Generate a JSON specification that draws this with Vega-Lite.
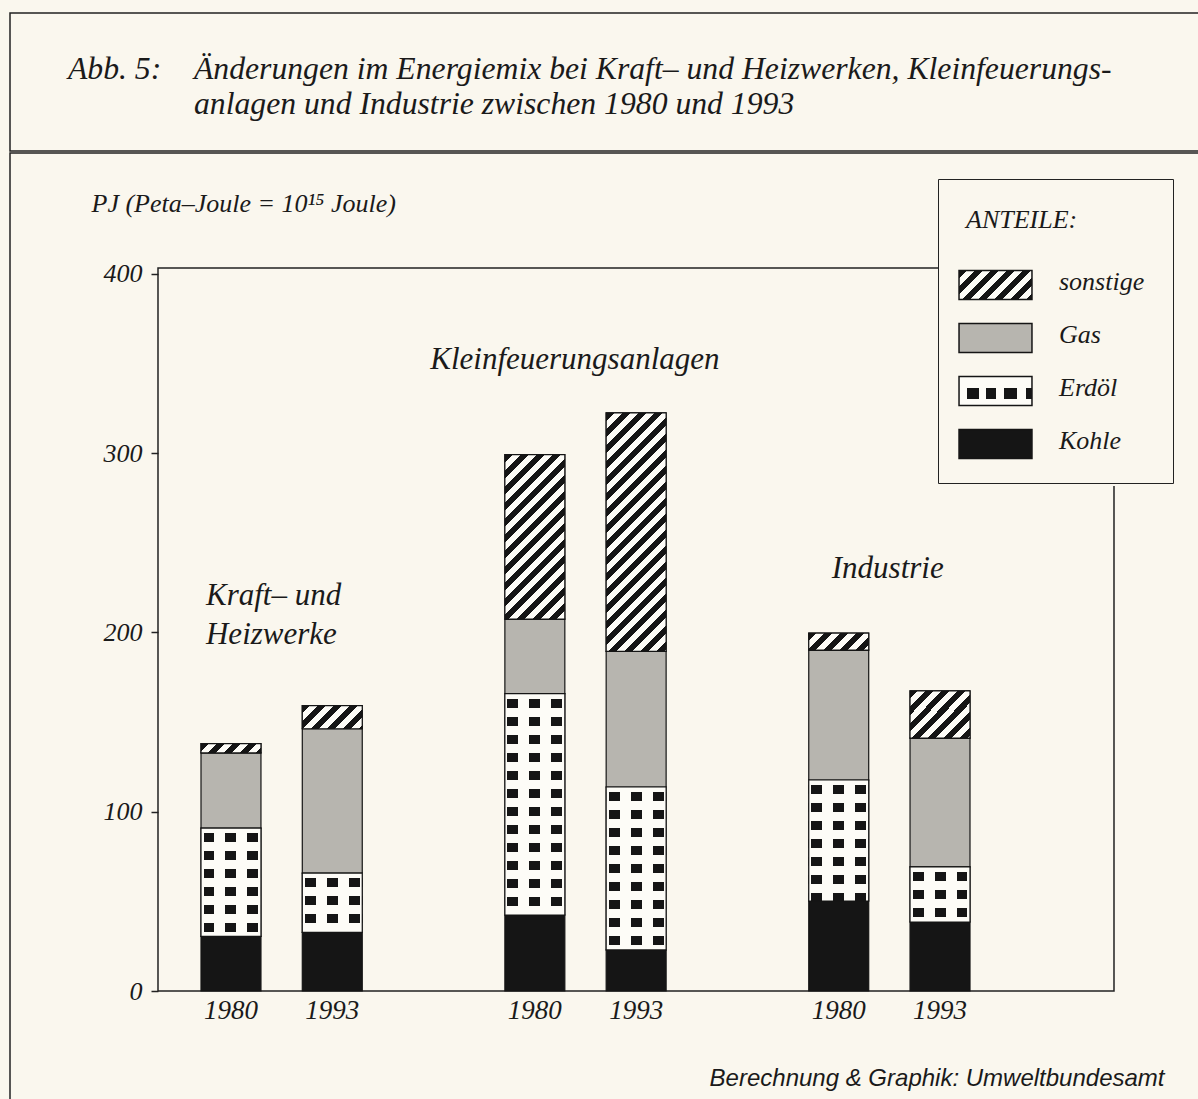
{
"$schema":"https://vega.github.io/schema/vega-lite/v6.json",
"background":"#faf7ee",
"padding":{"left":9,"top":12,"right":0,"bottom":0},
"spacing":0,
"config":{"view":{"stroke":"#222222","strokeWidth":1.5},"font":"Liberation Serif"},
"datasets":{"energie":[
{"Balken":"Kraft 1980","Anteil":"Kohle","Wert":30.5},
{"Balken":"Kraft 1980","Anteil":"Erdöl","Wert":60.4},
{"Balken":"Kraft 1980","Anteil":"Gas","Wert":41.9},
{"Balken":"Kraft 1980","Anteil":"sonstige","Wert":5.2},
{"Balken":"Kraft 1993","Anteil":"Kohle","Wert":32.7},
{"Balken":"Kraft 1993","Anteil":"Erdöl","Wert":33.1},
{"Balken":"Kraft 1993","Anteil":"Gas","Wert":80.5},
{"Balken":"Kraft 1993","Anteil":"sonstige","Wert":12.9},
{"Balken":"Klein 1980","Anteil":"Kohle","Wert":42.4},
{"Balken":"Klein 1980","Anteil":"Erdöl","Wert":123.5},
{"Balken":"Klein 1980","Anteil":"Gas","Wert":41.6},
{"Balken":"Klein 1980","Anteil":"sonstige","Wert":91.7},
{"Balken":"Klein 1993","Anteil":"Kohle","Wert":22.9},
{"Balken":"Klein 1993","Anteil":"Erdöl","Wert":90.9},
{"Balken":"Klein 1993","Anteil":"Gas","Wert":75.7},
{"Balken":"Klein 1993","Anteil":"sonstige","Wert":133.0},
{"Balken":"Industrie 1980","Anteil":"Kohle","Wert":50.2},
{"Balken":"Industrie 1980","Anteil":"Erdöl","Wert":67.5},
{"Balken":"Industrie 1980","Anteil":"Gas","Wert":72.5},
{"Balken":"Industrie 1980","Anteil":"sonstige","Wert":9.5},
{"Balken":"Industrie 1993","Anteil":"Kohle","Wert":38.5},
{"Balken":"Industrie 1993","Anteil":"Erdöl","Wert":30.7},
{"Balken":"Industrie 1993","Anteil":"Gas","Wert":71.9},
{"Balken":"Industrie 1993","Anteil":"sonstige","Wert":26.3}
]},
"vconcat":[
{"width":1200,"height":138,
 "data":{"values":[{"Nr":"Abb. 5:","Titel":"Änderungen im Energiemix bei Kraft– und Heizwerken, Kleinfeuerungs-\nanlagen und Industrie zwischen 1980 und 1993"}]},
 "layer":[
  {"mark":{"type":"text","align":"left","baseline":"alphabetic","font":"Liberation Serif","fontStyle":"italic","fontSize":31.7,"color":"#1a1a1a"},
   "encoding":{
    "x":{"datum":0.0483,"type":"quantitative","scale":{"domain":[0,1],"nice":false,"zero":false},"axis":null},
    "y":{"datum":0.5217,"type":"quantitative","scale":{"domain":[0,1],"nice":false,"zero":false},"axis":null},
    "text":{"field":"Nr"}}},
  {"mark":{"type":"text","align":"left","baseline":"alphabetic","font":"Liberation Serif","fontStyle":"italic","fontSize":31.7,"lineBreak":"\n","lineHeight":35,"color":"#1a1a1a"},
   "encoding":{
    "x":{"datum":0.1533,"type":"quantitative"},
    "y":{"datum":0.5217,"type":"quantitative"},
    "text":{"field":"Titel"}}}
 ]},
{"width":1200,"height":960,
 "resolve":{"scale":{"x":"independent"}},
 "layer":[
  {"layer":[
   {"data":{"values":[{"Rahmen":"Diagramm"}]},
    "mark":{"type":"rect","fill":"#ffffff","fillOpacity":0,"stroke":"#222222","strokeWidth":1.5},
    "encoding":{
     "x":{"datum":0,"type":"quantitative","scale":{"domain":[-0.15481,1.10042],"nice":false,"zero":false},"axis":null},
     "x2":{"datum":1},
     "y":{"datum":0,"type":"quantitative","scale":{"domain":[-68.06,467.5],"nice":false,"zero":false}},
     "y2":{"datum":403.3}}},
   {"data":{"values":[{"Rahmen":"Legende"}]},
    "mark":{"type":"rect","fill":"#faf7ee","strokeWidth":0},
    "encoding":{"x":{"datum":0.8159,"type":"quantitative"},"x2":{"datum":1.0669},"y":{"datum":281.7,"type":"quantitative"},"y2":{"datum":451.9}}},
   {"data":{"values":[{"Anteil":"sonstige"}]},
    "mark":{"type":"rect","stroke":"#151515","strokeWidth":1.5,
     "fill":{"gradient":"linear","x1":0,"y1":0,"x2":1.2068,"y2":0.4794,"stops":[{"offset":0,"color":"#151515"},{"offset":0.0784,"color":"#151515"},{"offset":0.0784,"color":"#fdfcf7"},{"offset":0.1569,"color":"#fdfcf7"},{"offset":0.1569,"color":"#151515"},{"offset":0.2353,"color":"#151515"},{"offset":0.2353,"color":"#fdfcf7"},{"offset":0.3137,"color":"#fdfcf7"},{"offset":0.3137,"color":"#151515"},{"offset":0.3922,"color":"#151515"},{"offset":0.3922,"color":"#fdfcf7"},{"offset":0.4706,"color":"#fdfcf7"},{"offset":0.4706,"color":"#151515"},{"offset":0.549,"color":"#151515"},{"offset":0.549,"color":"#fdfcf7"},{"offset":0.6275,"color":"#fdfcf7"},{"offset":0.6275,"color":"#151515"},{"offset":0.7059,"color":"#151515"},{"offset":0.7059,"color":"#fdfcf7"},{"offset":0.7843,"color":"#fdfcf7"},{"offset":0.7843,"color":"#151515"},{"offset":0.8627,"color":"#151515"},{"offset":0.8627,"color":"#fdfcf7"},{"offset":0.9412,"color":"#fdfcf7"},{"offset":0.9412,"color":"#151515"},{"offset":1,"color":"#151515"}]}},
    "encoding":{"x":{"datum":0.8379,"type":"quantitative"},"x2":{"datum":0.9142},"y":{"datum":385.77,"type":"quantitative"},"y2":{"datum":401.95}}},
   {"data":{"values":[{"Anteil":"Gas"}]},
    "mark":{"type":"rect","stroke":"#151515","strokeWidth":1.5,"fill":"#b7b5af"},
    "encoding":{"x":{"datum":0.8379,"type":"quantitative"},"x2":{"datum":0.9142},"y":{"datum":356.21,"type":"quantitative"},"y2":{"datum":372.38}}},
   {"data":{"values":[{"Anteil":"Erdöl"}]},
    "mark":{"type":"rect","strokeWidth":0,
     "fill":{"gradient":"linear","x1":0,"y1":0,"x2":0,"y2":1,"stops":[{"offset":0,"color":"#fdfcf7"},{"offset":0.38,"color":"#fdfcf7"},{"offset":0.38,"color":"#151515"},{"offset":0.78,"color":"#151515"},{"offset":0.78,"color":"#fdfcf7"},{"offset":1,"color":"#fdfcf7"}]}},
    "encoding":{"x":{"datum":0.8379,"type":"quantitative"},"x2":{"datum":0.9142},"y":{"datum":326.64,"type":"quantitative"},"y2":{"datum":342.82}}},
   {"data":{"values":[{"Anteil":"Erdöl"}]},
    "mark":{"type":"rect","stroke":"#151515","strokeWidth":1.5,
     "fill":{"gradient":"linear","x1":0,"y1":0,"x2":1,"y2":0,"stops":[{"offset":0,"color":"#fdfcf7"},{"offset":0.11,"color":"#fdfcf7"},{"offset":0.11,"color":"rgba(253,252,247,0)"},{"offset":0.28,"color":"rgba(253,252,247,0)"},{"offset":0.28,"color":"#fdfcf7"},{"offset":0.37,"color":"#fdfcf7"},{"offset":0.37,"color":"rgba(253,252,247,0)"},{"offset":0.5,"color":"rgba(253,252,247,0)"},{"offset":0.5,"color":"#fdfcf7"},{"offset":0.62,"color":"#fdfcf7"},{"offset":0.62,"color":"rgba(253,252,247,0)"},{"offset":0.8,"color":"rgba(253,252,247,0)"},{"offset":0.8,"color":"#fdfcf7"},{"offset":0.92,"color":"#fdfcf7"},{"offset":0.92,"color":"rgba(253,252,247,0)"},{"offset":1,"color":"rgba(253,252,247,0)"}]}},
    "encoding":{"x":{"datum":0.8379,"type":"quantitative"},"x2":{"datum":0.9142},"y":{"datum":326.64,"type":"quantitative"},"y2":{"datum":342.82}}},
   {"data":{"values":[{"Anteil":"Kohle"}]},
    "mark":{"type":"rect","stroke":"#151515","strokeWidth":1.5,"fill":"#151515"},
    "encoding":{"x":{"datum":0.8379,"type":"quantitative"},"x2":{"datum":0.9142},"y":{"datum":297.07,"type":"quantitative"},"y2":{"datum":313.25}}}
  ]},
  {"data":{"name":"energie"},
   "transform":[
    {"calculate":"indexof(['Kohle','Erdöl','Gas','sonstige'], datum.Anteil)","as":"Rang"},
    {"stack":"Wert","groupby":["Balken"],"sort":[{"field":"Rang","order":"ascending"}],"as":["y0","y1"]}
   ],
   "layer":[
    {"mark":{"type":"bar","stroke":"#151515","strokeWidth":1.2},
     "encoding":{
      "x":{"field":"Balken","type":"nominal",
       "scale":{"type":"band","domain":["Kraft 1980","Kraft 1993"," ","Klein 1980","Klein 1993","  ","Industrie 1980","Industrie 1993"],"range":[191,960],"paddingInner":0.408,"paddingOuter":0},
       "axis":{"orient":"bottom","offset":-122,"ticks":false,"domain":false,"grid":false,"labelAngle":0,"labelOverlap":false,
        "labelExpr":"slice(datum.value, -4)","labelFont":"Liberation Serif","labelFontStyle":"italic","labelFontSize":27,"labelPadding":6,"labelColor":"#1a1a1a",
        "title":"Berechnung & Graphik: Umweltbundesamt","titleFont":"Liberation Sans","titleFontStyle":"italic","titleFontWeight":"normal","titleFontSize":24,"titleColor":"#1a1a1a",
        "titleAlign":"right","titleBaseline":"alphabetic","titleX":1154,"titleY":94}},
      "y":{"field":"y0","type":"quantitative","scale":{"domain":[-68.06,467.5],"nice":false,"zero":false},
       "axis":{"orient":"left","offset":-148,"values":[0,100,200,300,400],"tickSize":7,"tickColor":"#222222","tickWidth":1.5,"domain":false,"grid":false,
        "labelFont":"Liberation Serif","labelFontStyle":"italic","labelFontSize":26,"labelColor":"#1a1a1a","labelPadding":9,
        "title":"PJ (Peta–Joule = 10¹⁵ Joule)","titleAngle":0,"titleAlign":"left","titleBaseline":"alphabetic","titleX":-67,"titleY":58,
        "titleFont":"Liberation Serif","titleFontStyle":"italic","titleFontWeight":"normal","titleFontSize":26,"titleColor":"#1a1a1a"}},
      "y2":{"field":"y1"},
      "color":{"condition":[{"test":"datum.Anteil === 'Gas'","value":"#b7b5af"},{"test":"datum.Anteil === 'Kohle'","value":"#151515"},{"test":"datum.Anteil === 'sonstige'","value":"#555555"}],"value":"#fdfcf7"},
      "strokeDash":{"field":"Anteil","type":"nominal",
       "scale":{"domain":["sonstige","Gas","Erdöl","Kohle"],"range":[[1,0],[1,0],[1,0],[1,0]]},
       "legend":{"orient":"none","legendX":928,"legendY":166,"direction":"vertical",
        "title":"ANTEILE:",
        "fillColor":"transparent","strokeColor":"#222222","padding":28,
        "titleFont":"Liberation Serif","titleFontStyle":"italic","titleFontWeight":"normal","titleFontSize":26,"titleColor":"#1a1a1a","titlePadding":20,
        "labelFont":"Liberation Serif","labelFontStyle":"italic","labelFontSize":26,"labelColor":"#1a1a1a","labelOffset":35,
        "labelExpr":"datum.label + '\u00a0\u00a0'",
        "symbolType":"M-1.3,-0.5H1.3V0.5H-1.3Z","symbolSize":3136,"symbolOpacity":0,"rowPadding":10}}}},
    {"transform":[{"filter":"datum.Anteil === 'sonstige'"}],
     "mark":{"type":"bar","stroke":"#151515","strokeWidth":1.2},
     "encoding":{
      "x":{"field":"Balken","type":"nominal"},
      "y":{"field":"y0","type":"quantitative"},
      "y2":{"field":"y1"},
      "color":{"condition":[
       {"test":"datum.Balken === 'Kraft 1980'","value":{"gradient":"linear","x1":0,"y1":0,"x2":1.128,"y2":0.1748,"stops":[{"offset":0,"color":"#151515"},{"offset":0.1155,"color":"#151515"},{"offset":0.1155,"color":"#fdfcf7"},{"offset":0.2309,"color":"#fdfcf7"},{"offset":0.2309,"color":"#151515"},{"offset":0.3464,"color":"#151515"},{"offset":0.3464,"color":"#fdfcf7"},{"offset":0.4619,"color":"#fdfcf7"},{"offset":0.4619,"color":"#151515"},{"offset":0.5774,"color":"#151515"},{"offset":0.5774,"color":"#fdfcf7"},{"offset":0.6928,"color":"#fdfcf7"},{"offset":0.6928,"color":"#151515"},{"offset":0.8083,"color":"#151515"},{"offset":0.8083,"color":"#fdfcf7"},{"offset":0.9238,"color":"#fdfcf7"},{"offset":0.9238,"color":"#151515"},{"offset":1,"color":"#151515"}]}},
       {"test":"datum.Balken === 'Kraft 1993'","value":{"gradient":"linear","x1":0,"y1":0,"x2":1.206,"y2":0.4644,"stops":[{"offset":0,"color":"#151515"},{"offset":0.0963,"color":"#151515"},{"offset":0.0963,"color":"#fdfcf7"},{"offset":0.1927,"color":"#fdfcf7"},{"offset":0.1927,"color":"#151515"},{"offset":0.289,"color":"#151515"},{"offset":0.289,"color":"#fdfcf7"},{"offset":0.3854,"color":"#fdfcf7"},{"offset":0.3854,"color":"#151515"},{"offset":0.4817,"color":"#151515"},{"offset":0.4817,"color":"#fdfcf7"},{"offset":0.578,"color":"#fdfcf7"},{"offset":0.578,"color":"#151515"},{"offset":0.6744,"color":"#151515"},{"offset":0.6744,"color":"#fdfcf7"},{"offset":0.7707,"color":"#fdfcf7"},{"offset":0.7707,"color":"#151515"},{"offset":0.8671,"color":"#151515"},{"offset":0.8671,"color":"#fdfcf7"},{"offset":0.9634,"color":"#fdfcf7"},{"offset":0.9634,"color":"#151515"},{"offset":1,"color":"#151515"}]}},
       {"test":"datum.Balken === 'Klein 1980'","value":{"gradient":"linear","x1":0,"y1":0,"x2":0.4396,"y2":1.2045,"stops":[{"offset":0,"color":"#151515"},{"offset":0.0357,"color":"#151515"},{"offset":0.0357,"color":"#fdfcf7"},{"offset":0.0713,"color":"#fdfcf7"},{"offset":0.0713,"color":"#151515"},{"offset":0.107,"color":"#151515"},{"offset":0.107,"color":"#fdfcf7"},{"offset":0.1426,"color":"#fdfcf7"},{"offset":0.1426,"color":"#151515"},{"offset":0.1783,"color":"#151515"},{"offset":0.1783,"color":"#fdfcf7"},{"offset":0.2139,"color":"#fdfcf7"},{"offset":0.2139,"color":"#151515"},{"offset":0.2496,"color":"#151515"},{"offset":0.2496,"color":"#fdfcf7"},{"offset":0.2852,"color":"#fdfcf7"},{"offset":0.2852,"color":"#151515"},{"offset":0.3209,"color":"#151515"},{"offset":0.3209,"color":"#fdfcf7"},{"offset":0.3565,"color":"#fdfcf7"},{"offset":0.3565,"color":"#151515"},{"offset":0.3922,"color":"#151515"},{"offset":0.3922,"color":"#fdfcf7"},{"offset":0.4278,"color":"#fdfcf7"},{"offset":0.4278,"color":"#151515"},{"offset":0.4635,"color":"#151515"},{"offset":0.4635,"color":"#fdfcf7"},{"offset":0.4991,"color":"#fdfcf7"},{"offset":0.4991,"color":"#151515"},{"offset":0.5348,"color":"#151515"},{"offset":0.5348,"color":"#fdfcf7"},{"offset":0.5704,"color":"#fdfcf7"},{"offset":0.5704,"color":"#151515"},{"offset":0.6061,"color":"#151515"},{"offset":0.6061,"color":"#fdfcf7"},{"offset":0.6417,"color":"#fdfcf7"},{"offset":0.6417,"color":"#151515"},{"offset":0.6774,"color":"#151515"},{"offset":0.6774,"color":"#fdfcf7"},{"offset":0.713,"color":"#fdfcf7"},{"offset":0.713,"color":"#151515"},{"offset":0.7487,"color":"#151515"},{"offset":0.7487,"color":"#fdfcf7"},{"offset":0.7843,"color":"#fdfcf7"},{"offset":0.7843,"color":"#151515"},{"offset":0.82,"color":"#151515"},{"offset":0.82,"color":"#fdfcf7"},{"offset":0.8556,"color":"#fdfcf7"},{"offset":0.8556,"color":"#151515"},{"offset":0.8913,"color":"#151515"},{"offset":0.8913,"color":"#fdfcf7"},{"offset":0.9269,"color":"#fdfcf7"},{"offset":0.9269,"color":"#151515"},{"offset":0.9626,"color":"#151515"},{"offset":0.9626,"color":"#fdfcf7"},{"offset":1,"color":"#fdfcf7"}]}},
       {"test":"datum.Balken === 'Klein 1993'","value":{"gradient":"linear","x1":0,"y1":0,"x2":0.2963,"y2":1.1771,"stops":[{"offset":0,"color":"#151515"},{"offset":0.0268,"color":"#151515"},{"offset":0.0268,"color":"#fdfcf7"},{"offset":0.0536,"color":"#fdfcf7"},{"offset":0.0536,"color":"#151515"},{"offset":0.0804,"color":"#151515"},{"offset":0.0804,"color":"#fdfcf7"},{"offset":0.1072,"color":"#fdfcf7"},{"offset":0.1072,"color":"#151515"},{"offset":0.1341,"color":"#151515"},{"offset":0.1341,"color":"#fdfcf7"},{"offset":0.1609,"color":"#fdfcf7"},{"offset":0.1609,"color":"#151515"},{"offset":0.1877,"color":"#151515"},{"offset":0.1877,"color":"#fdfcf7"},{"offset":0.2145,"color":"#fdfcf7"},{"offset":0.2145,"color":"#151515"},{"offset":0.2413,"color":"#151515"},{"offset":0.2413,"color":"#fdfcf7"},{"offset":0.2681,"color":"#fdfcf7"},{"offset":0.2681,"color":"#151515"},{"offset":0.2949,"color":"#151515"},{"offset":0.2949,"color":"#fdfcf7"},{"offset":0.3217,"color":"#fdfcf7"},{"offset":0.3217,"color":"#151515"},{"offset":0.3485,"color":"#151515"},{"offset":0.3485,"color":"#fdfcf7"},{"offset":0.3753,"color":"#fdfcf7"},{"offset":0.3753,"color":"#151515"},{"offset":0.4022,"color":"#151515"},{"offset":0.4022,"color":"#fdfcf7"},{"offset":0.429,"color":"#fdfcf7"},{"offset":0.429,"color":"#151515"},{"offset":0.4558,"color":"#151515"},{"offset":0.4558,"color":"#fdfcf7"},{"offset":0.4826,"color":"#fdfcf7"},{"offset":0.4826,"color":"#151515"},{"offset":0.5094,"color":"#151515"},{"offset":0.5094,"color":"#fdfcf7"},{"offset":0.5362,"color":"#fdfcf7"},{"offset":0.5362,"color":"#151515"},{"offset":0.563,"color":"#151515"},{"offset":0.563,"color":"#fdfcf7"},{"offset":0.5898,"color":"#fdfcf7"},{"offset":0.5898,"color":"#151515"},{"offset":0.6166,"color":"#151515"},{"offset":0.6166,"color":"#fdfcf7"},{"offset":0.6434,"color":"#fdfcf7"},{"offset":0.6434,"color":"#151515"},{"offset":0.6703,"color":"#151515"},{"offset":0.6703,"color":"#fdfcf7"},{"offset":0.6971,"color":"#fdfcf7"},{"offset":0.6971,"color":"#151515"},{"offset":0.7239,"color":"#151515"},{"offset":0.7239,"color":"#fdfcf7"},{"offset":0.7507,"color":"#fdfcf7"},{"offset":0.7507,"color":"#151515"},{"offset":0.7775,"color":"#151515"},{"offset":0.7775,"color":"#fdfcf7"},{"offset":0.8043,"color":"#fdfcf7"},{"offset":0.8043,"color":"#151515"},{"offset":0.8311,"color":"#151515"},{"offset":0.8311,"color":"#fdfcf7"},{"offset":0.8579,"color":"#fdfcf7"},{"offset":0.8579,"color":"#151515"},{"offset":0.8847,"color":"#151515"},{"offset":0.8847,"color":"#fdfcf7"},{"offset":0.9115,"color":"#fdfcf7"},{"offset":0.9115,"color":"#151515"},{"offset":0.9384,"color":"#151515"},{"offset":0.9384,"color":"#fdfcf7"},{"offset":0.9652,"color":"#fdfcf7"},{"offset":0.9652,"color":"#151515"},{"offset":0.992,"color":"#151515"},{"offset":0.992,"color":"#fdfcf7"},{"offset":1,"color":"#fdfcf7"}]}},
       {"test":"datum.Balken === 'Industrie 1980'","value":{"gradient":"linear","x1":0,"y1":0,"x2":1.188,"y2":0.3366,"stops":[{"offset":0,"color":"#151515"},{"offset":0.104,"color":"#151515"},{"offset":0.104,"color":"#fdfcf7"},{"offset":0.2079,"color":"#fdfcf7"},{"offset":0.2079,"color":"#151515"},{"offset":0.3119,"color":"#151515"},{"offset":0.3119,"color":"#fdfcf7"},{"offset":0.4158,"color":"#fdfcf7"},{"offset":0.4158,"color":"#151515"},{"offset":0.5198,"color":"#151515"},{"offset":0.5198,"color":"#fdfcf7"},{"offset":0.6237,"color":"#fdfcf7"},{"offset":0.6237,"color":"#151515"},{"offset":0.7277,"color":"#151515"},{"offset":0.7277,"color":"#fdfcf7"},{"offset":0.8316,"color":"#fdfcf7"},{"offset":0.8316,"color":"#151515"},{"offset":0.9356,"color":"#151515"},{"offset":0.9356,"color":"#fdfcf7"},{"offset":1,"color":"#fdfcf7"}]}}
      ],
      "value":{"gradient":"linear","x1":0,"y1":0,"x2":1.1045,"y2":0.867,"stops":[{"offset":0,"color":"#151515"},{"offset":0.0747,"color":"#151515"},{"offset":0.0747,"color":"#fdfcf7"},{"offset":0.1495,"color":"#fdfcf7"},{"offset":0.1495,"color":"#151515"},{"offset":0.2242,"color":"#151515"},{"offset":0.2242,"color":"#fdfcf7"},{"offset":0.299,"color":"#fdfcf7"},{"offset":0.299,"color":"#151515"},{"offset":0.3737,"color":"#151515"},{"offset":0.3737,"color":"#fdfcf7"},{"offset":0.4484,"color":"#fdfcf7"},{"offset":0.4484,"color":"#151515"},{"offset":0.5232,"color":"#151515"},{"offset":0.5232,"color":"#fdfcf7"},{"offset":0.5979,"color":"#fdfcf7"},{"offset":0.5979,"color":"#151515"},{"offset":0.6727,"color":"#151515"},{"offset":0.6727,"color":"#fdfcf7"},{"offset":0.7474,"color":"#fdfcf7"},{"offset":0.7474,"color":"#151515"},{"offset":0.8221,"color":"#151515"},{"offset":0.8221,"color":"#fdfcf7"},{"offset":0.8969,"color":"#fdfcf7"},{"offset":0.8969,"color":"#151515"},{"offset":0.9716,"color":"#151515"},{"offset":0.9716,"color":"#fdfcf7"},{"offset":1,"color":"#fdfcf7"}]}}}},
    {"transform":[{"filter":"datum.Anteil === 'Erdöl'"}],
     "mark":{"type":"bar","strokeWidth":0},
     "encoding":{
      "x":{"field":"Balken","type":"nominal"},
      "y":{"field":"y0","type":"quantitative"},
      "y2":{"field":"y1"},
      "color":{"condition":[
       {"test":"datum.Balken === 'Kraft 1980'","value":{"gradient":"linear","x1":0,"y1":0,"x2":0,"y2":1,"stops":[{"offset":0,"color":"#fdfcf7"},{"offset":0.0462,"color":"#fdfcf7"},{"offset":0.0462,"color":"#151515"},{"offset":0.1293,"color":"#151515"},{"offset":0.1293,"color":"#fdfcf7"},{"offset":0.2124,"color":"#fdfcf7"},{"offset":0.2124,"color":"#151515"},{"offset":0.2955,"color":"#151515"},{"offset":0.2955,"color":"#fdfcf7"},{"offset":0.3786,"color":"#fdfcf7"},{"offset":0.3786,"color":"#151515"},{"offset":0.4617,"color":"#151515"},{"offset":0.4617,"color":"#fdfcf7"},{"offset":0.5448,"color":"#fdfcf7"},{"offset":0.5448,"color":"#151515"},{"offset":0.6279,"color":"#151515"},{"offset":0.6279,"color":"#fdfcf7"},{"offset":0.711,"color":"#fdfcf7"},{"offset":0.711,"color":"#151515"},{"offset":0.7941,"color":"#151515"},{"offset":0.7941,"color":"#fdfcf7"},{"offset":0.8772,"color":"#fdfcf7"},{"offset":0.8772,"color":"#151515"},{"offset":0.9603,"color":"#151515"},{"offset":0.9603,"color":"#fdfcf7"},{"offset":1,"color":"#fdfcf7"}]}},
       {"test":"datum.Balken === 'Kraft 1993'","value":{"gradient":"linear","x1":0,"y1":0,"x2":0,"y2":1,"stops":[{"offset":0,"color":"#fdfcf7"},{"offset":0.0843,"color":"#fdfcf7"},{"offset":0.0843,"color":"#151515"},{"offset":0.2361,"color":"#151515"},{"offset":0.2361,"color":"#fdfcf7"},{"offset":0.3879,"color":"#fdfcf7"},{"offset":0.3879,"color":"#151515"},{"offset":0.5396,"color":"#151515"},{"offset":0.5396,"color":"#fdfcf7"},{"offset":0.6914,"color":"#fdfcf7"},{"offset":0.6914,"color":"#151515"},{"offset":0.8432,"color":"#151515"},{"offset":0.8432,"color":"#fdfcf7"},{"offset":0.9949,"color":"#fdfcf7"},{"offset":0.9949,"color":"#151515"},{"offset":1,"color":"#151515"}]}},
       {"test":"datum.Balken === 'Klein 1980'","value":{"gradient":"linear","x1":0,"y1":0,"x2":0,"y2":1,"stops":[{"offset":0,"color":"#fdfcf7"},{"offset":0.0226,"color":"#fdfcf7"},{"offset":0.0226,"color":"#151515"},{"offset":0.0632,"color":"#151515"},{"offset":0.0632,"color":"#fdfcf7"},{"offset":0.1039,"color":"#fdfcf7"},{"offset":0.1039,"color":"#151515"},{"offset":0.1445,"color":"#151515"},{"offset":0.1445,"color":"#fdfcf7"},{"offset":0.1852,"color":"#fdfcf7"},{"offset":0.1852,"color":"#151515"},{"offset":0.2258,"color":"#151515"},{"offset":0.2258,"color":"#fdfcf7"},{"offset":0.2665,"color":"#fdfcf7"},{"offset":0.2665,"color":"#151515"},{"offset":0.3071,"color":"#151515"},{"offset":0.3071,"color":"#fdfcf7"},{"offset":0.3478,"color":"#fdfcf7"},{"offset":0.3478,"color":"#151515"},{"offset":0.3884,"color":"#151515"},{"offset":0.3884,"color":"#fdfcf7"},{"offset":0.4291,"color":"#fdfcf7"},{"offset":0.4291,"color":"#151515"},{"offset":0.4697,"color":"#151515"},{"offset":0.4697,"color":"#fdfcf7"},{"offset":0.5104,"color":"#fdfcf7"},{"offset":0.5104,"color":"#151515"},{"offset":0.551,"color":"#151515"},{"offset":0.551,"color":"#fdfcf7"},{"offset":0.5917,"color":"#fdfcf7"},{"offset":0.5917,"color":"#151515"},{"offset":0.6323,"color":"#151515"},{"offset":0.6323,"color":"#fdfcf7"},{"offset":0.673,"color":"#fdfcf7"},{"offset":0.673,"color":"#151515"},{"offset":0.7136,"color":"#151515"},{"offset":0.7136,"color":"#fdfcf7"},{"offset":0.7543,"color":"#fdfcf7"},{"offset":0.7543,"color":"#151515"},{"offset":0.7949,"color":"#151515"},{"offset":0.7949,"color":"#fdfcf7"},{"offset":0.8356,"color":"#fdfcf7"},{"offset":0.8356,"color":"#151515"},{"offset":0.8762,"color":"#151515"},{"offset":0.8762,"color":"#fdfcf7"},{"offset":0.9169,"color":"#fdfcf7"},{"offset":0.9169,"color":"#151515"},{"offset":0.9575,"color":"#151515"},{"offset":0.9575,"color":"#fdfcf7"},{"offset":0.9982,"color":"#fdfcf7"},{"offset":0.9982,"color":"#151515"},{"offset":1,"color":"#151515"}]}},
       {"test":"datum.Balken === 'Klein 1993'","value":{"gradient":"linear","x1":0,"y1":0,"x2":0,"y2":1,"stops":[{"offset":0,"color":"#fdfcf7"},{"offset":0.0307,"color":"#fdfcf7"},{"offset":0.0307,"color":"#151515"},{"offset":0.0859,"color":"#151515"},{"offset":0.0859,"color":"#fdfcf7"},{"offset":0.1412,"color":"#fdfcf7"},{"offset":0.1412,"color":"#151515"},{"offset":0.1964,"color":"#151515"},{"offset":0.1964,"color":"#fdfcf7"},{"offset":0.2517,"color":"#fdfcf7"},{"offset":0.2517,"color":"#151515"},{"offset":0.3069,"color":"#151515"},{"offset":0.3069,"color":"#fdfcf7"},{"offset":0.3622,"color":"#fdfcf7"},{"offset":0.3622,"color":"#151515"},{"offset":0.4174,"color":"#151515"},{"offset":0.4174,"color":"#fdfcf7"},{"offset":0.4727,"color":"#fdfcf7"},{"offset":0.4727,"color":"#151515"},{"offset":0.5279,"color":"#151515"},{"offset":0.5279,"color":"#fdfcf7"},{"offset":0.5832,"color":"#fdfcf7"},{"offset":0.5832,"color":"#151515"},{"offset":0.6384,"color":"#151515"},{"offset":0.6384,"color":"#fdfcf7"},{"offset":0.6937,"color":"#fdfcf7"},{"offset":0.6937,"color":"#151515"},{"offset":0.7489,"color":"#151515"},{"offset":0.7489,"color":"#fdfcf7"},{"offset":0.8042,"color":"#fdfcf7"},{"offset":0.8042,"color":"#151515"},{"offset":0.8594,"color":"#151515"},{"offset":0.8594,"color":"#fdfcf7"},{"offset":0.9147,"color":"#fdfcf7"},{"offset":0.9147,"color":"#151515"},{"offset":0.9699,"color":"#151515"},{"offset":0.9699,"color":"#fdfcf7"},{"offset":1,"color":"#fdfcf7"}]}},
       {"test":"datum.Balken === 'Industrie 1980'","value":{"gradient":"linear","x1":0,"y1":0,"x2":0,"y2":1,"stops":[{"offset":0,"color":"#fdfcf7"},{"offset":0.0413,"color":"#fdfcf7"},{"offset":0.0413,"color":"#151515"},{"offset":0.1157,"color":"#151515"},{"offset":0.1157,"color":"#fdfcf7"},{"offset":0.1901,"color":"#fdfcf7"},{"offset":0.1901,"color":"#151515"},{"offset":0.2645,"color":"#151515"},{"offset":0.2645,"color":"#fdfcf7"},{"offset":0.3388,"color":"#fdfcf7"},{"offset":0.3388,"color":"#151515"},{"offset":0.4132,"color":"#151515"},{"offset":0.4132,"color":"#fdfcf7"},{"offset":0.4876,"color":"#fdfcf7"},{"offset":0.4876,"color":"#151515"},{"offset":0.562,"color":"#151515"},{"offset":0.562,"color":"#fdfcf7"},{"offset":0.6364,"color":"#fdfcf7"},{"offset":0.6364,"color":"#151515"},{"offset":0.7107,"color":"#151515"},{"offset":0.7107,"color":"#fdfcf7"},{"offset":0.7851,"color":"#fdfcf7"},{"offset":0.7851,"color":"#151515"},{"offset":0.8595,"color":"#151515"},{"offset":0.8595,"color":"#fdfcf7"},{"offset":0.9339,"color":"#fdfcf7"},{"offset":0.9339,"color":"#151515"},{"offset":1,"color":"#151515"}]}}
      ],
      "value":{"gradient":"linear","x1":0,"y1":0,"x2":0,"y2":1,"stops":[{"offset":0,"color":"#fdfcf7"},{"offset":0.0909,"color":"#fdfcf7"},{"offset":0.0909,"color":"#151515"},{"offset":0.2545,"color":"#151515"},{"offset":0.2545,"color":"#fdfcf7"},{"offset":0.4182,"color":"#fdfcf7"},{"offset":0.4182,"color":"#151515"},{"offset":0.5818,"color":"#151515"},{"offset":0.5818,"color":"#fdfcf7"},{"offset":0.7455,"color":"#fdfcf7"},{"offset":0.7455,"color":"#151515"},{"offset":0.9091,"color":"#151515"},{"offset":0.9091,"color":"#fdfcf7"},{"offset":1,"color":"#fdfcf7"}]}}}},
    {"transform":[{"filter":"datum.Anteil === 'Erdöl'"}],
     "mark":{"type":"bar","stroke":"#151515","strokeWidth":1.2,
      "fill":{"gradient":"linear","x1":0,"y1":0,"x2":1,"y2":0,"stops":[{"offset":0,"color":"#fdfcf7"},{"offset":0.0417,"color":"#fdfcf7"},{"offset":0.0417,"color":"rgba(253,252,247,0)"},{"offset":0.225,"color":"rgba(253,252,247,0)"},{"offset":0.225,"color":"#fdfcf7"},{"offset":0.4083,"color":"#fdfcf7"},{"offset":0.4083,"color":"rgba(253,252,247,0)"},{"offset":0.5917,"color":"rgba(253,252,247,0)"},{"offset":0.5917,"color":"#fdfcf7"},{"offset":0.775,"color":"#fdfcf7"},{"offset":0.775,"color":"rgba(253,252,247,0)"},{"offset":0.9583,"color":"rgba(253,252,247,0)"},{"offset":0.9583,"color":"#fdfcf7"},{"offset":1,"color":"#fdfcf7"}]}},
     "encoding":{
      "x":{"field":"Balken","type":"nominal"},
      "y":{"field":"y0","type":"quantitative"},
      "y2":{"field":"y1"}}},
    {"data":{"values":[{"Text":"Kraft– und\nHeizwerke"}]},
     "mark":{"type":"text","font":"Liberation Serif","fontStyle":"italic","fontSize":31,"align":"left","baseline":"alphabetic","lineBreak":"\n","lineHeight":39,"dx":-25,"color":"#1a1a1a"},
     "encoding":{"x":{"datum":"Kraft 1980","type":"nominal"},"y":{"datum":215.3,"type":"quantitative"},"text":{"field":"Text"}}},
    {"data":{"values":[{"Text":"Kleinfeuerungsanlagen"}]},
     "mark":{"type":"text","font":"Liberation Serif","fontStyle":"italic","fontSize":31,"align":"center","baseline":"alphabetic","dx":40,"color":"#1a1a1a"},
     "encoding":{"x":{"datum":"Klein 1980","type":"nominal"},"y":{"datum":347.0,"type":"quantitative"},"text":{"field":"Text"}}},
    {"data":{"values":[{"Text":"Industrie"}]},
     "mark":{"type":"text","font":"Liberation Serif","fontStyle":"italic","fontSize":31,"align":"center","baseline":"alphabetic","dx":49,"color":"#1a1a1a"},
     "encoding":{"x":{"datum":"Industrie 1980","type":"nominal"},"y":{"datum":230.4,"type":"quantitative"},"text":{"field":"Text"}}}
   ]}
 ]}
]}
